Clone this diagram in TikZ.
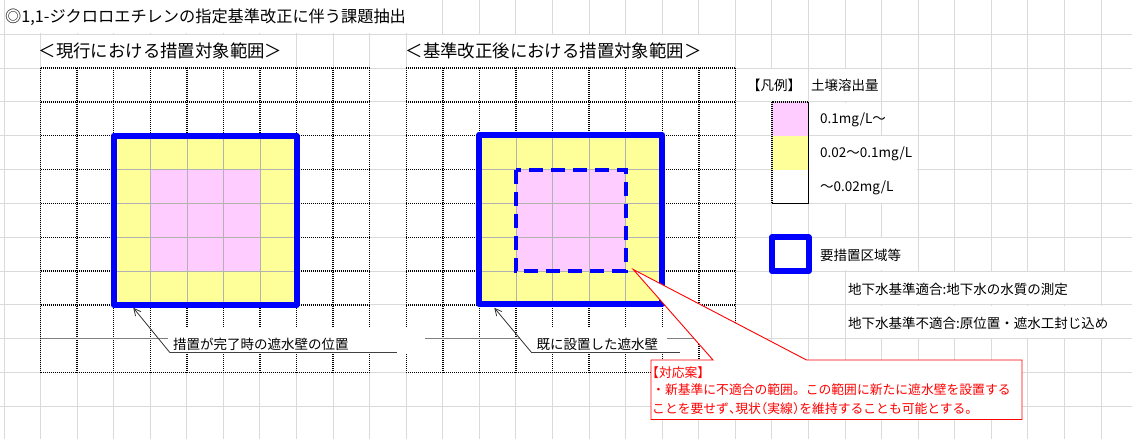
\documentclass[tikz,border=0pt]{standalone}
\usepackage{fontspec}
\setmainfont{Noto Sans CJK JP}
\newfontfamily\jphalt[RawFeature=+halt]{Noto Sans CJK JP}
\usetikzlibrary{arrows.meta}
\definecolor{gridgray}{HTML}{DADADA}
\definecolor{yel}{HTML}{FFFF99}
\definecolor{pnk}{HTML}{FFCCFF}
\definecolor{bblue}{HTML}{0000FF}
\definecolor{rred}{HTML}{FF0000}
\definecolor{dgray}{HTML}{7F7F7F}
\newcommand\CX[1]{(4+36.57*(#1))}
\newcommand\RY[1]{(0.3+33.85*(#1))}
\newcommand\hh[1]{{\jphalt #1}}
\begin{document}
\begin{tikzpicture}[x=1pt,y=-1pt,
  gridline/.style={draw=gridgray,line width=1pt},
  hidecell/.style={fill=white},
  hair/.style={draw=black,line width=1.5pt,dash pattern=on 1.2pt off 0.8pt},
  innerline/.style={draw=black!30,line width=0.6pt},
  rowline/.style={draw=dgray,line width=1.2pt},
  wall/.style={draw=bblue,line width=6pt,line join=round},
  newwall/.style={draw=bblue,line width=4pt,dash pattern=on 14pt off 8pt},
  titletxt/.style={inner sep=0pt,anchor=west,font=\fontsize{16.2}{19}\selectfont},
  subtxt/.style={inner sep=0pt,anchor=west,font=\fontsize{17.4}{20}\selectfont},
  lbl/.style={inner sep=0pt,anchor=west,font=\fontsize{13.5}{16}\selectfont},
  redtxt/.style={inner sep=0pt,anchor=west,text=rred,font=\fontsize{12.8}{15}\selectfont},
  uline/.style={draw=black!75,line width=1.2pt},
  leader/.style={draw=black!80,line width=0.8pt,-{Straight Barb[length=7pt,width=7pt]}},
  whitebox/.style={fill=white,inner sep=0pt,anchor=south west},
  redcall/.style={draw=rred,line width=0.9pt,fill=white}
]
\useasboundingbox (0,0) rectangle (1132,439);
\fill[white] (0,0) rectangle (1132,439);
% spreadsheet gridlines
\foreach \k in {0,...,30} \draw[gridline] ({\CX{\k}},0) -- ({\CX{\k}},439);
\foreach \r in {1,...,12} \draw[gridline] (0,{\RY{\r}}) -- (1132,{\RY{\r}});
% overflowing text hides gridlines
\fill[hidecell] ({\CX{0}+0.8},0) rectangle ({\CX{12}-0.8},{\RY{1}-0.7});
\fill[hidecell] ({\CX{1}+0.8},{\RY{1}+0.7}) rectangle ({\CX{8}-0.8},{\RY{2}-0.7});
\fill[hidecell] ({\CX{11}+0.8},{\RY{1}+0.7}) rectangle ({\CX{20}-0.8},{\RY{2}-0.7});
\fill[hidecell] ({\CX{20}+0.8},{\RY{2}+0.7}) rectangle ({\CX{22}-0.8},{\RY{3}-0.7});
\fill[hidecell] ({\CX{22}+0.8},{\RY{2}+0.7}) rectangle ({\CX{24}-0.8},{\RY{3}-0.7});
\fill[hidecell] ({\CX{22}+0.8},{\RY{3}+0.7}) rectangle ({\CX{24}-0.8},{\RY{4}-0.7});
\fill[hidecell] ({\CX{22}+0.8},{\RY{4}+0.7}) rectangle ({\CX{25}-0.8},{\RY{6}-0.7});
\fill[hidecell] ({\CX{22}+0.8},{\RY{7}+0.7}) rectangle ({\CX{25}-0.8},{\RY{8}-0.7});
\fill[hidecell] ({\CX{23}+0.8},{\RY{8}+0.7}) rectangle ({\CX{30}-0.8},{\RY{9}-0.7});
\fill[hidecell] ({\CX{23}+0.8},{\RY{9}+0.7}) rectangle (1132,{\RY{10}-0.7});
% panels
\fill[white] ({\CX{1}},{\RY{2}}) rectangle ({\CX{10}},{\RY{11}});
\fill[white] ({\CX{11}},{\RY{2}}) rectangle ({\CX{20}},{\RY{11}});
\foreach \k in {1,...,10} {
  \draw[hair] ({\CX{\k}},{\RY{2}}) -- ({\CX{\k}},{\RY{11}});
  \draw[hair] ({\CX{\k+10}},{\RY{2}}) -- ({\CX{\k+10}},{\RY{11}});
}
\foreach \r in {2,...,9,11} {
  \draw[hair] ({\CX{1}},{\RY{\r}}) -- ({\CX{10}},{\RY{\r}});
  \draw[hair] ({\CX{11}},{\RY{\r}}) -- ({\CX{20}},{\RY{\r}});
}
\draw[rowline] ({\CX{1}},{\RY{10}}) -- ({\CX{10}},{\RY{10}});
\draw[rowline] ({\CX{11}},{\RY{10}}) -- ({\CX{20}},{\RY{10}});
% coloured cells
\foreach \o in {0,10} {
  \fill[yel] ({\CX{3+\o}},{\RY{4}}) rectangle ({\CX{8+\o}},{\RY{9}});
  \fill[pnk] ({\CX{4+\o}},{\RY{5}}) rectangle ({\CX{7+\o}},{\RY{8}});
  \foreach \k in {4,...,7} \draw[innerline] ({\CX{\k+\o}},{\RY{4}}) -- ({\CX{\k+\o}},{\RY{9}});
  \foreach \r in {5,...,8} \draw[innerline] ({\CX{3+\o}},{\RY{\r}}) -- ({\CX{8+\o}},{\RY{\r}});
}
% legend swatches
\fill[pnk] ({\CX{21}},{\RY{3}}) rectangle ({\CX{22}},{\RY{4}});
\fill[yel] ({\CX{21}},{\RY{4}}) rectangle ({\CX{22}},{\RY{5}});
\fill[white] ({\CX{21}},{\RY{5}}) rectangle ({\CX{22}},{\RY{6}});
\draw[hair] ({\CX{21}},{\RY{3}}) rectangle ({\CX{22}},{\RY{6}});
\draw[wall] ({\CX{21}},{\RY{7}}) rectangle ({\CX{22}},{\RY{8}});
% walls
\draw[wall] ({\CX{3}},{\RY{4}}) rectangle ({\CX{8}},{\RY{9}});
\draw[wall] ({\CX{13}},{\RY{4}-1}) rectangle ({\CX{18}},{\RY{9}-1});
\draw[newwall] ({\CX{14}},{\RY{5}}) rectangle ({\CX{17}},{\RY{8}});
% callout label boxes
\node[whitebox,minimum width=257pt,minimum height=24.7pt] (cb1) at (168,352.7) {};
\node[whitebox,minimum width=147pt,minimum height=24.7pt] (cb2) at (520,352.7) {};
\node[lbl] (t1) at (173,344) {措置が完了時の遮水壁の位置};
\node[lbl] (t2) at (536.5,344) {既に設置した遮水壁};
\coordinate (u1a) at (170,352.7);
\coordinate (u1b) at (397,352.7);
\coordinate (u2a) at (531.7,352.7);
\coordinate (u2b) at (680,352.7);
\coordinate (tip1) at (133.3,307.8);
\coordinate (tip2) at (494.3,307.8);
\draw[uline] (u1a) -- (u1b);
\draw[uline] (u2a) -- (u2b);
\draw[leader] (u1a) -- (tip1);
\draw[leader] (u2a) -- (tip2);
% titles
\node[titletxt] (title) at (5,17) {◎1,1-ジクロロエチレンの指定基準改正に伴う課題抽出};
\node[subtxt] (sub1) at (38.4,51) {＜現行における措置対象範囲＞};
\node[subtxt] (sub2) at (405.4,51) {＜基準改正後における措置対象範囲＞};
% legend texts
\node[lbl] (lg0) at (747,85) {【凡例】};
\node[lbl] (lg1) at (811,85) {土壌溶出量};
\node[lbl] (lg2) at (820,119.5) {0.1mg/L～};
\node[lbl] (lg3) at (820,153.5) {0.02～0.1mg/L};
\node[lbl] (lg4) at (820,187.5) {～0.02mg/L};
\node[lbl] (lg5) at (820,255) {要措置区域等};
\node[lbl] (lg6) at (848,289.5) {地下水基準適合:地下水の水質の測定};
\node[lbl] (lg7) at (848,323) {地下水基準不適合:原位置・遮水工封じ込め};
% red callout
\coordinate (rtip) at (633.3,269.5);
\coordinate (rb1) at (713,360);
\coordinate (rb2) at (806.5,360);
\draw[redcall] (rb1) -- (rtip) -- (rb2) -- (1022,360) -- (1022,419.5) -- (651,419.5) -- (651,360) -- cycle;
\node[redtxt] (rc0) at (646,372.3) {【対応案】};
\node[redtxt] (rc1) at (652,390) {・新基準に不適合の範囲。この範囲に新たに遮水壁を設置する};
\node[redtxt] (rc2) at (652,408.3) {ことを要せず\hh{、}現状\hh{（}実線\hh{）}を維持することも可能とする\hh{。}};
\end{tikzpicture}
\end{document}
